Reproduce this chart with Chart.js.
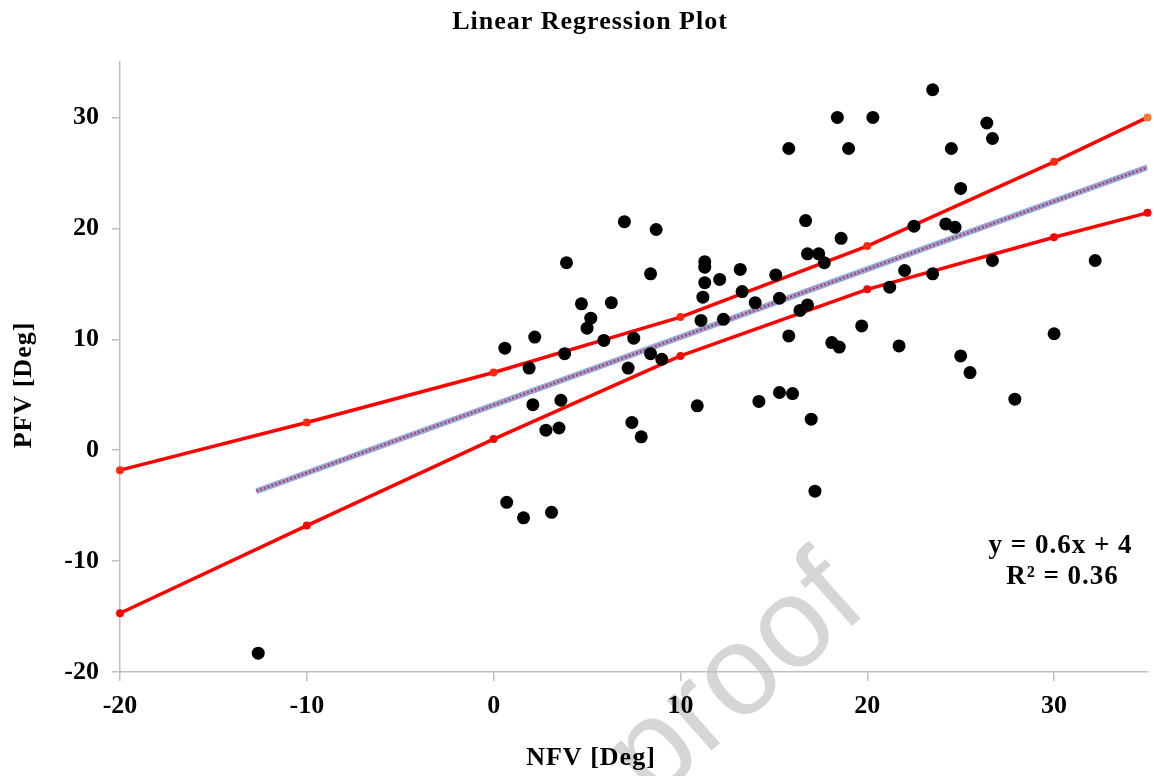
<!DOCTYPE html>
<html>
<head>
<meta charset="utf-8">
<title>Linear Regression Plot</title>
<script src="https://cdn.jsdelivr.net/npm/chart.js@4.4.0/dist/chart.umd.min.js"></script>
<style>
  html, body { margin: 0; padding: 0; background: #fff; }
  #wrap { width: 1154px; height: 776px; }
</style>
</head>
<body>
<div id="wrap"><canvas id="regressionChart" width="1154" height="776"></canvas></div>
<script>
// measured points (NFV on x, PFV on y)
const nfv = [-12.6, 0.6, 0.7, 1.6, 1.9, 2.1, 2.2, 2.8, 3.1, 3.5, 3.6, 3.8, 3.9, 4.7, 5.0, 5.2,
  5.9, 6.3, 7.0, 7.2, 7.4, 7.5, 7.9, 8.4, 8.4, 8.7, 9.0, 10.9, 11.1, 11.2, 11.3, 11.3,
  11.3, 12.1, 12.3, 13.2, 13.3, 14.0, 14.2, 15.1, 15.3, 15.3, 15.8, 15.8, 16.0, 16.4,
  16.7, 16.8, 16.8, 17.0, 17.2, 17.4, 17.7, 18.1, 18.4, 18.5, 18.6, 19.0, 19.7, 20.3,
  21.2, 21.7, 22.0, 22.5, 23.5, 23.5, 24.2, 24.5, 24.7, 25.0, 25.0, 25.5, 26.4, 26.7,
  26.7, 27.9, 30.0, 32.2];
const pfv = [-18.3, 9.2, -4.7, -6.1, 7.4, 4.1, 10.2, 1.8, -5.6, 2.0, 4.5, 8.7, 16.9, 13.2, 11.0, 11.9,
  9.9, 13.3, 20.6, 7.4, 2.5, 10.1, 1.2, 15.9, 8.7, 19.9, 8.2, 4.0, 11.7, 13.8, 15.1, 16.5,
  17.0, 15.4, 11.8, 16.3, 14.3, 13.3, 4.4, 15.8, 13.7, 5.2, 27.2, 10.3, 5.1, 12.6,
  20.7, 13.1, 17.7, 2.8, -3.7, 17.7, 16.9, 9.7, 30.0, 9.3, 19.1, 27.2, 11.2, 30.0,
  14.7, 9.4, 16.2, 20.2, 32.5, 15.9, 20.4, 27.2, 20.1, 23.6, 8.5, 7.0, 29.5, 28.1,
  17.1, 4.6, 10.5, 17.1];

// regression line (y = 0.6x + 4)
const fitX = [-12.7, 35];
const fitY = [-3.7, 25.5];

// confidence bounds
const boundX = [-20, -10, 0, 10, 20, 30, 35];
const upperY = [-1.8, 2.5, 7.0, 12.0, 18.4, 26.0, 30.0];
const lowerY = [-14.7, -6.8, 1.0, 8.5, 14.5, 19.2, 21.4];

const xTicks = [-20, -10, 0, 10, 20, 30];
const yTicks = [-20, -10, 0, 10, 20, 30];

const SERIF = '"Liberation Serif", "Times New Roman", serif';
const AXIS_GRAY = '#bfbfbf';

function toXY(xs, ys) {
  return xs.map((x, i) => ({ x: x, y: ys[i] }));
}

// titles, equation and the watermark
const textPlugin = {
  id: 'chartText',
  beforeDraw(chart) {
    const ctx = chart.ctx;
    ctx.save();
    ctx.fillStyle = '#ffffff';
    ctx.fillRect(0, 0, chart.width, chart.height);
    ctx.translate(870, 610);
    ctx.rotate(-41.6 * Math.PI / 180);
    ctx.font = '128px "Liberation Sans", Arial, sans-serif';
    ctx.fillStyle = '#d6d6d6';
    ctx.textAlign = 'right';
    ctx.textBaseline = 'alphabetic';
    ctx.fillText('Journal Pre-proof', 0, 0);
    ctx.restore();
  },
  afterDraw(chart) {
    const ctx = chart.ctx;
    const area = chart.chartArea;
    ctx.save();
    ctx.fillStyle = '#000';
    ctx.textAlign = 'center';
    ctx.textBaseline = 'alphabetic';
    ctx.letterSpacing = '1px';
    ctx.font = 'bold 26px ' + SERIF;
    ctx.fillText('Linear Regression Plot', 590, 29);
    ctx.fillText('NFV [Deg]', 591, 765);

    ctx.save();
    ctx.translate(31, 385);
    ctx.rotate(-Math.PI / 2);
    ctx.fillText('PFV [Deg]', 0, 0);
    ctx.restore();

    ctx.font = 'bold 27px ' + SERIF;
    ctx.fillText('y = 0.6x + 4', area.right - 87, area.bottom - 119);
    ctx.fillText('R\u00B2 = 0.36', area.right - 85, area.bottom - 88);
    ctx.restore();
  }
};

const tickFont = { family: SERIF, size: 26, weight: 'bold' };

const chart = new Chart(document.getElementById('regressionChart'), {
  type: 'scatter',
  data: {
    datasets: [
      {
        label: 'PFV vs NFV',
        data: toXY(nfv, pfv),
        backgroundColor: '#000',
        borderWidth: 0,
        pointRadius: 6.5,
        order: 0
      },
      {
        label: 'Fit dots',
        data: toXY(fitX, fitY),
        showLine: true,
        borderColor: '#c8375e',
        borderWidth: 2.5,
        borderDash: [2, 2],
        pointRadius: 0,
        order: 1
      },
      {
        label: 'Fit',
        data: toXY(fitX, fitY),
        showLine: true,
        borderColor: '#8eaadb',
        borderWidth: 6,
        pointRadius: 0,
        order: 2
      },
      {
        label: 'Upper bound',
        data: toXY(boundX, upperY),
        showLine: true,
        borderColor: '#ff0000',
        borderWidth: 3.5,
        pointRadius: 4,
        pointBorderWidth: 0,
        pointBackgroundColor: ctx => ctx.dataIndex === upperY.length - 1 ? '#ed7d31' : '#ff2a10',
        clip: false,
        order: 3
      },
      {
        label: 'Lower bound',
        data: toXY(boundX, lowerY),
        showLine: true,
        borderColor: '#ff0000',
        borderWidth: 3.5,
        pointRadius: 4,
        pointBorderWidth: 0,
        pointBackgroundColor: '#ff0000',
        clip: false,
        order: 3
      }
    ]
  },
  options: {
    responsive: false,
    animation: false,
    layout: { padding: { top: 62, right: 6, left: 0, bottom: 0 } },
    plugins: {
      legend: { display: false },
      tooltip: { enabled: false },
      title: { display: false }
    },
    scales: {
      x: {
        type: 'linear',
        min: -20,
        max: 35,
        afterBuildTicks: scale => { scale.ticks = xTicks.map(v => ({ value: v })); },
        afterFit: scale => { scale.height = 104; },
        grid: { drawOnChartArea: false, drawTicks: true, tickLength: 9, color: AXIS_GRAY, lineWidth: 1.5 },
        border: { display: true, color: AXIS_GRAY, width: 1.5 },
        ticks: { font: tickFont, color: '#000', padding: 10, maxRotation: 0 }
      },
      y: {
        type: 'linear',
        min: -20,
        max: 35,
        afterBuildTicks: scale => { scale.ticks = yTicks.map(v => ({ value: v })); },
        afterFit: scale => { scale.width = 120; },
        grid: { drawOnChartArea: false, drawTicks: true, tickLength: 8, color: AXIS_GRAY, lineWidth: 1.5 },
        border: { display: true, color: AXIS_GRAY, width: 1.5 },
        ticks: { font: tickFont, color: '#000', padding: 13 }
      }
    }
  },
  plugins: [textPlugin]
});
</script>
</body>
</html>
